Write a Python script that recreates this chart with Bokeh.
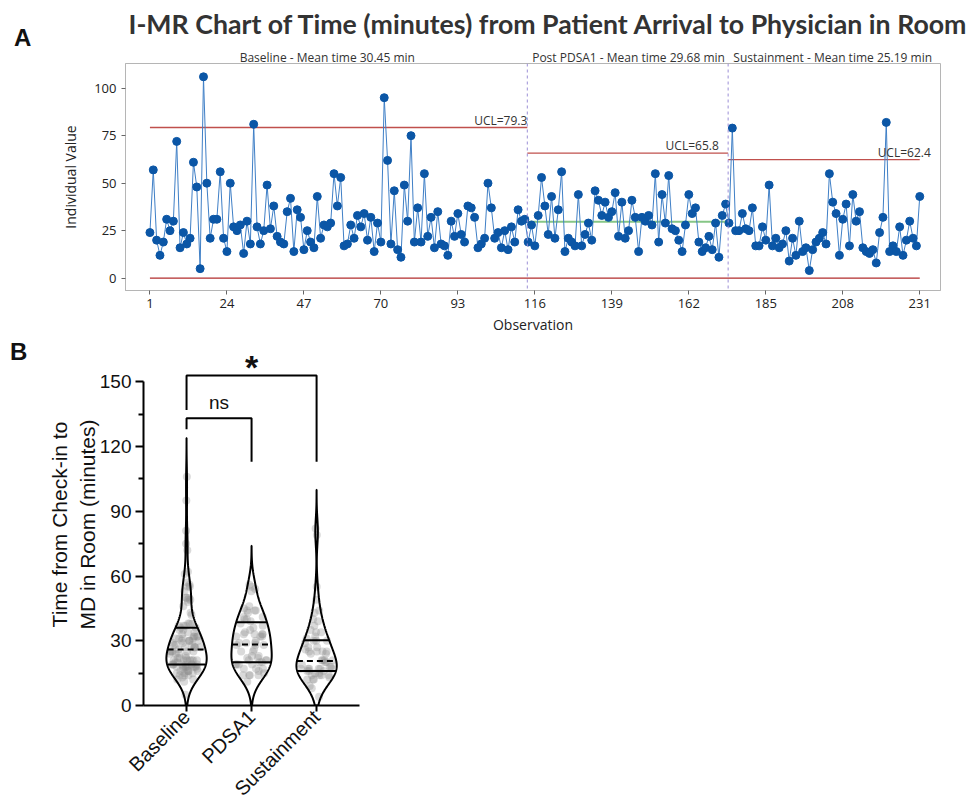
import numpy as np
from bokeh.plotting import figure
from bokeh.models import Range1d, FixedTicker, Label, Span, LinearAxis, Div
from bokeh.layouts import column, row
from bokeh.embed import file_html
from bokeh.resources import INLINE

# ---------------- data ----------------
individual_values = [
    24, 57, 20, 12, 19, 31, 25, 30, 72, 16,
    24, 18, 21, 61, 48, 5, 106, 50, 21, 31,
    31, 56, 21, 14, 50, 27, 25, 28, 13, 30,
    18, 81, 27, 18, 25, 49, 26, 38, 22, 19,
    18, 35, 42, 14, 36, 32, 15, 25, 19, 16,
    43, 21, 28, 27, 29, 55, 38, 53, 17, 18,
    28, 21, 33, 27, 34, 20, 32, 14, 29, 19,
    95, 62, 18, 46, 15, 11, 49, 30, 75, 19,
    37, 19, 55, 22, 32, 16, 35, 18, 17, 12,
    30, 22, 34, 23, 19, 38, 37, 32, 16, 18,
    21, 50, 37, 21, 24, 16, 25, 15, 27, 19,
    36, 30, 31,
    19, 28, 17, 33, 53, 38, 23, 43, 21, 36,
    56, 14, 21, 19, 17, 44, 17, 23, 29, 20,
    46, 41, 33, 40, 32, 35, 45, 22, 40, 21,
    25, 41, 32, 14, 32, 30, 33, 28, 55, 19,
    44, 29, 54, 26, 25, 20, 14, 28, 44, 34,
    37, 19, 14, 16, 22, 15, 29, 11, 33, 39,
    29, 79, 25, 25, 34, 26, 25, 37, 17, 17,
    27, 20, 49, 17, 21, 16, 18, 25, 9, 21,
    12, 30, 14, 16, 4, 15, 19, 21, 24, 18,
    55, 40, 34, 12, 31, 39, 17, 44, 30, 35,
    16, 14, 13, 15, 8, 24, 32, 82, 14, 17,
    14, 27, 12, 20, 30, 21, 17, 43,
]
stage_names = ["Baseline", "PDSA1", "Sustainment"]
stage_headers = ["Baseline - Mean time 30.45 min",
                 "Post PDSA1 - Mean time 29.68 min",
                 "Sustainment - Mean time 25.19 min"]
stage_first_obs = [1, 114, 174]
stage_last_obs = [113, 173, 231]
stage_mean = [30.45, 29.68, 25.19]
stage_ucl = [79.3, 65.8, 62.4]
stage_lcl = [0, 0, 0]
ucl_labels = ["UCL=79.3", "UCL=65.8", "UCL=62.4"]
x_ticks_a = [1, 24, 47, 70, 93, 116, 139, 162, 185, 208, 231]
y_ticks_a = [0, 25, 50, 75, 100]
title_a = "I-MR Chart of Time (minutes) from Patient Arrival to Physician in Room"

violin_q1 = [19, 20, 16]
violin_median = [26, 28.3, 20.6]
violin_q3 = [36, 38.6, 30.3]
y_ticks_b = [0, 30, 60, 90, 120, 150]
y_minor_b = [15, 45, 75, 105, 135]
y_label_b = "Time from Check-in to\nMD in Room (minutes)"
bracket_ns = [1, 2, 128, 133.2, 113]
bracket_star = [1, 3, 137, 153, 113]

# ---------------- panel A ----------------
obs = list(range(1, len(individual_values) + 1))
X0, X1 = -6.3, 237.2
pA = figure(frame_width=815, frame_height=227, x_range=Range1d(X0, X1), y_range=Range1d(-6.5, 113),
            output_backend="svg", toolbar_location=None,
            min_border_left=85, min_border_right=30, min_border_top=62, min_border_bottom=46)
pA.grid.visible = False
pA.outline_line_color = "#b5b5b5"
pA.border_fill_color = "white"

font_a = "Open Sans"
pA.title.text = title_a
pA.title.align = "left"
pA.title.offset = 3
pA.title.text_font = "Lato"
pA.title.text_font_size = "26.7px"
pA.title.text_font_style = "bold"
pA.title.text_color = "#333333"
pA.title.standoff = 11

for ax in (pA.xaxis, pA.yaxis):
    ax.axis_line_color = "#b5b5b5"
    ax.major_tick_line_color = "#666666"
    ax.minor_tick_line_color = None
    ax.major_tick_in = 0
    ax.major_tick_out = 4
    ax.major_label_text_font = font_a
    ax.major_label_text_font_size = "13px"
    ax.major_label_text_color = "#222222"
    ax.axis_label_text_font = font_a
    ax.axis_label_text_font_size = "14px"
    ax.axis_label_text_font_style = "normal"
    ax.axis_label_text_color = "#222222"
pA.xaxis.ticker = FixedTicker(ticks=x_ticks_a)
pA.yaxis.ticker = FixedTicker(ticks=y_ticks_a)
pA.xaxis.axis_label = "Observation"
pA.yaxis.axis_label = "Individual Value"
pA.xaxis.major_label_standoff = 4
pA.xaxis.axis_label_standoff = 4
pA.yaxis.major_label_standoff = 5
pA.yaxis.axis_label_standoff = 11

dividers = [stage_first_obs[1] - 0.25, stage_first_obs[2] - 0.25]
seg_x0 = [stage_first_obs[0], dividers[0], dividers[1]]
seg_x1 = [dividers[0], dividers[1], stage_last_obs[2]]

hdr_bounds = [X0, dividers[0], dividers[1], X1]
hdr_centers = [int(round((hdr_bounds[i] + hdr_bounds[i + 1]) / 2)) for i in range(3)]
hdr_axis = LinearAxis(ticker=FixedTicker(ticks=hdr_centers),
                      major_label_overrides={c: t for c, t in zip(hdr_centers, stage_headers)},
                      axis_line_color=None, major_tick_line_color=None, minor_tick_line_color=None,
                      major_tick_out=0, major_tick_in=0, major_label_standoff=-2,
                      major_label_text_font=font_a,
                      major_label_text_font_size="12px", major_label_text_color="#333333")
pA.add_layout(hdr_axis, "above")

pA.segment(x0=seg_x0, x1=seg_x1, y0=stage_ucl, y1=stage_ucl, line_color="#c0504d", line_width=1.3)
pA.segment(x0=[stage_first_obs[0]], x1=[stage_last_obs[2]], y0=[stage_lcl[0]], y1=[stage_lcl[0]],
           line_color="#b22d2d", line_width=1.3)
pA.segment(x0=[seg_x0[1]], x1=[seg_x1[1]], y0=[stage_mean[1]], y1=[stage_mean[1]],
           line_color="#86c686", line_width=2)
for d in dividers:
    pA.add_layout(Span(location=d, dimension="height", line_color="#9b8fd6",
                       line_dash="3 3", line_width=1))

pA.line(obs, individual_values, line_color="#3f7fc6", line_width=1)
pA.scatter(obs, individual_values, size=8, fill_color="#0b56a6", line_color="#0b56a6")

ucl_label_x = [dividers[0], dividers[1] - 2.8, stage_last_obs[2] + 3.3]
for xx, yy, t in zip(ucl_label_x, stage_ucl, ucl_labels):
    pA.add_layout(Label(x=xx, y=yy, text=t, text_align="right", text_baseline="bottom",
                        text_font=font_a, text_font_size="12px", text_color="#333333", y_offset=-1))

divA = Div(text='<div style="font-family:\'Liberation Sans\';font-size:24px;font-weight:bold;'
                'color:#111;padding-top:24px;padding-left:14px;line-height:28px;">A</div>',
           width=40, height=300, margin=(0, 0, 0, 0))

# ---------------- panel B ----------------
font_b = "Liberation Sans"
pB = figure(frame_width=216, frame_height=362, x_range=Range1d(0.338, 3.66),
            y_range=Range1d(0, 167.8), output_backend="svg", toolbar_location=None,
            min_border_left=103, min_border_right=30, min_border_top=7, min_border_bottom=90)
pB.grid.visible = False
pB.outline_line_color = None
pB.border_fill_color = "white"

groups = [individual_values[0:113], individual_values[113:173], individual_values[173:231]]
bw = 6.0
max_half = 0.31
for i, g in enumerate(groups):
    g = np.asarray(g, dtype=float)
    c = i + 1
    grid = np.linspace(0, g.max() + 3 * bw, 400)
    dens = np.exp(-0.5 * ((grid[:, None] - g[None, :]) / bw) ** 2).sum(axis=1)
    hw = dens / dens.max() * max_half
    phase = (np.arange(len(g)) * 0.618034) % 1.0
    offs = np.interp(g, grid, hw) * 0.85 * (2 * phase - 1)
    pB.scatter(c + offs, g, size=8, fill_color="#8c8c8c", fill_alpha=0.32, line_color=None)
    xs = np.concatenate([c - hw, (c + hw)[::-1]])
    ys = np.concatenate([grid, grid[::-1]])
    pB.patch(xs, ys, fill_color=None, line_color="black", line_width=2)
    for q, dash in ((violin_q1[i], "solid"), (violin_q3[i], "solid"), (violin_median[i], "6 4")):
        w = float(np.interp(q, grid, hw))
        pB.segment(x0=[c - w], x1=[c + w], y0=[q], y1=[q], line_color="black", line_width=2,
                   line_dash=dash)

for br in (bracket_ns, bracket_star):
    pB.line([br[0], br[0], br[1], br[1]], [br[2], br[3], br[3], br[4]], line_color="black",
            line_width=2)
pB.add_layout(Label(x=(bracket_ns[0] + bracket_ns[1]) / 2, y=140.5, text="ns",
                    text_align="center", text_baseline="alphabetic", text_font=font_b,
                    text_font_size="19px", text_color="#111111"))
pB.add_layout(Label(x=(bracket_star[0] + bracket_star[1]) / 2, y=157.0, text="*",
                    text_align="center", text_baseline="alphabetic", text_font=font_b,
                    text_font_size="34px", text_font_style="bold", text_color="#111111"))

for ax in (pB.xaxis, pB.yaxis):
    ax.axis_line_color = "black"
    ax.axis_line_width = 2
    ax.major_tick_line_color = "black"
    ax.major_tick_line_width = 2
    ax.minor_tick_line_color = "black"
    ax.minor_tick_line_width = 2
    ax.major_tick_in = 0
    ax.minor_tick_in = 0
    ax.major_label_text_font = font_b
    ax.major_label_text_font_size = "19px"
    ax.major_label_text_color = "#111111"
    ax.axis_label_text_font = font_b
    ax.axis_label_text_font_size = "21px"
    ax.axis_label_text_font_style = "normal"
    ax.axis_label_text_color = "#111111"
pB.yaxis.ticker = FixedTicker(ticks=y_ticks_b, minor_ticks=y_minor_b)
pB.yaxis.bounds = (0, 150)
pB.yaxis.major_tick_out = 8
pB.yaxis.minor_tick_out = 5
pB.yaxis.major_label_standoff = 4
pB.yaxis.axis_label = y_label_b
pB.yaxis.axis_label_standoff = -2
pB.xaxis.ticker = FixedTicker(ticks=[1, 2, 3])
pB.xaxis.major_label_overrides = {1: stage_names[0], 2: stage_names[1], 3: stage_names[2]}
pB.xaxis.major_tick_out = 6
pB.xaxis.minor_tick_line_color = None
pB.xaxis.major_label_orientation = np.pi / 4
pB.xaxis.major_label_standoff = 2
pB.xaxis.major_label_text_font_size = "20px"

divB = Div(text='<div style="font-family:\'Liberation Sans\';font-size:24px;font-weight:bold;'
                'color:#111;padding-top:2px;padding-left:10px;line-height:28px;">B</div>',
           width=40, height=100, margin=(0, 0, 0, 0))

layout = column(row(divA, pA), row(divB, pB))
open("out.html", "w").write(file_html(layout, INLINE))
